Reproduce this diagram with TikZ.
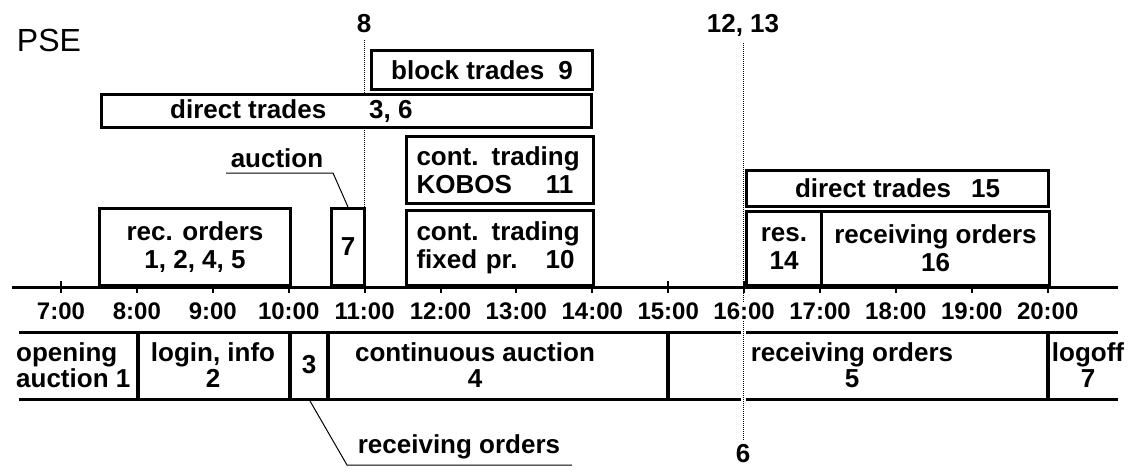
\documentclass[tikz,border=0pt]{standalone}
\usepackage{fontspec}
\setmainfont{Liberation Sans}
\usetikzlibrary{positioning}

\begin{document}
\begin{tikzpicture}[x=1pt, y=-1pt,
    b/.style={rectangle, draw, line width=3pt, fill=white, inner sep=0pt,
      anchor=south west, align=center, font=\bfseries\fontsize{26}{28}\selectfont},
    t/.style={inner sep=0pt, align=center, font=\bfseries\fontsize{26}{26}\selectfont},
    hr/.style={inner sep=1pt, fill=white, font=\bfseries\fontsize{24}{26}\selectfont},
    ax/.style={line width=3pt},
    sep/.style={line width=4pt},
    ld/.style={line width=1pt},
    dt/.style={line width=1pt, dash pattern=on 1pt off 1pt}]
    \useasboundingbox (0,0) rectangle (1131,472);

    \node[font=\fontsize{32}{34}\selectfont, inner sep=0pt] (pse) at (49,40) {PSE};

    % marker lines
    \node[t] (m8) at (364,24) {8};
    \node[t] (m12) at (743,25) {12, 13};
    \node[t] (m6) at (743,454) {6};
    \coordinate (t11) at (364,287);
    \draw[dt] ([yshift=-7pt]m8.south) -- (t11);
    \draw[dt] ([yshift=-7pt]m12.south) -- ([yshift=4pt]m6.north);

    % time axis
    \draw[ax] (12,287) -- (1118,287);
    \foreach \h [count=\i from 0] in {7,...,20} {
      \draw[line width=2pt] ({61+75.9*\i},281) -- ({61+75.9*\i},293);
      \node[hr] (h\h) at ({61+75.9*\i},311) {\h:00};
    }

    % sessions above the axis
    \node[b, minimum width=191pt, minimum height=77pt] (rec) at (98,287)
      {rec. orders\\1, 2, 4, 5};
    \node[b, minimum width=33pt, minimum height=77pt] (auc) at (330,287) {7};
    \node[b, minimum width=187pt, minimum height=75pt, align=left,
      text width=167pt, inner xsep=10pt] (fix) at (405,287)
      {cont. trading\\fixed pr.\hspace{28pt}10};
    \node[b, minimum width=187pt, minimum height=67pt, align=left,
      text width=167pt, inner xsep=10pt] (kob) at (405,205)
      {cont. trading\\KOBOS\hspace{34pt}11};
    \node[b, minimum width=490pt, minimum height=33pt] (dir) at (100,129) {};
    \node[t, anchor=west] (dirtxt) at ([xshift=70pt]dir.west)
      {direct trades\hspace{43pt}3, 6};
    \node[b, minimum width=221pt, minimum height=39pt] (blk) at (370,91)
      {block trades\hspace{14pt}9};
    \node[b, minimum width=302pt, minimum height=36pt] (d15) at (745,208)
      {direct trades\hspace{20pt}15};
    \node[b, minimum width=75pt, minimum height=74pt] (res) at (745,287)
      {res.\\14};
    \node[b, minimum width=228pt, minimum height=74pt] (r16) at (820,287)
      {receiving orders\\16};

    \node[t] (auctxt) at (277,158) {auction};
    \coordinate (ak) at (333,173);
    \coordinate (ae) at (226,173);
    \draw[ld] (auc.north) -- (ak) -- (ae);

    % sessions below the axis
    \draw[ax] (19,332) -- (1118,332);
    \draw[ax] (19,399) -- (1118,399);
    \foreach \x in {138,290,328,668,1048}
      \draw[sep] (\x,332) -- (\x,399);
    \node[t, anchor=west, align=left] (c1) at (16,365) {opening\\auction 1};
    \node[t] (c2) at (213,365) {login, info\\2};
    \node[t] (c3) at (309,365) {3};
    \node[t] (c4) at (475,365) {continuous auction\\4};
    \node[t] (c5) at (852,365) {receiving orders\\5};
    \node[t] (c7) at (1088,365) {logoff\\7};
    \draw[white, line width=5pt] (743,329) -- (743,402);
    \draw[dt] (743,329) -- (743,402);

    \node[t] (rotxt) at (459,447) {receiving orders};
    \coordinate (r3) at (310,401);
    \coordinate (rk) at (347,465);
    \coordinate (re) at (572,465);
    \draw[ld] (r3) -- (rk) -- (re);
\end{tikzpicture}
\end{document}
